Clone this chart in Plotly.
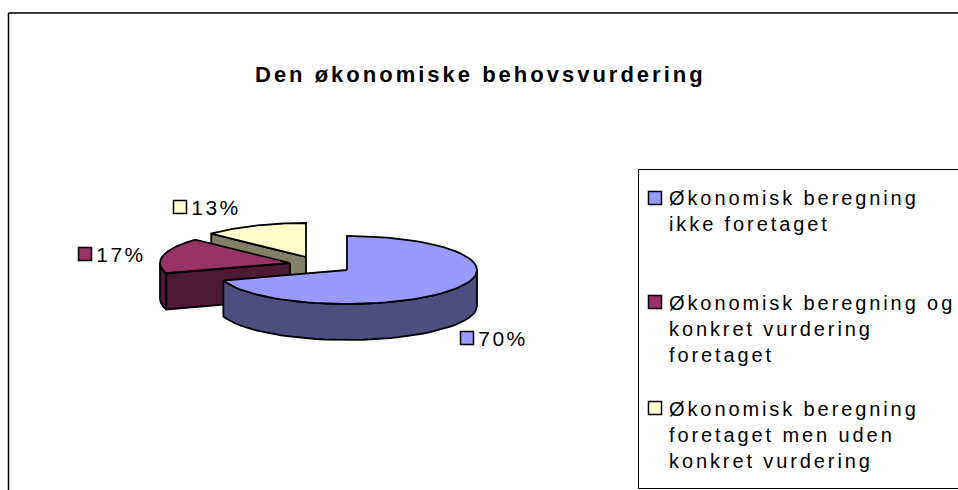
import numpy as np
import plotly.graph_objects as go

categories = ["Økonomisk beregning<br>ikke foretaget",
              "Økonomisk beregning og<br>konkret vurdering<br>foretaget",
              "Økonomisk beregning<br>foretaget men uden<br>konkret vurdering"]
values = [70, 17, 13]
tops = ["#9999FF", "#993366", "#FFFFCC"]
sides = ["#4D4D80", "#4D1933", "#808066"]
title = "Den økonomiske behovsvurdering"

W, H = 958, 490
RX, RY, DEPTH = 130, 34, 36
APEX = [(347, 270), (290, 263), (306, 257)]
LABEL_POS = [(467, 338), (85, 254), (180, 207)]
LEGEND_Y = [198, 302, 408]
LEGEND_TEXT_Y = [198, 303, 409]

fig = go.Figure()

def ell(c, a):
    r = np.radians(a)
    return c[0] + RX * np.sin(r), c[1] - RY * np.cos(r)

def poly(xs, ys, color):
    fig.add_trace(go.Scatter(x=xs, y=ys, mode="lines", fill="toself", fillcolor=color,
                             line=dict(color="black", width=1.8), hoverinfo="skip", showlegend=False))

def outer_side(c, a0, a1, color):
    a = np.linspace(a0, a1, 40)
    x, y = ell(c, a)
    poly(np.r_[x, x[::-1], x[0]], np.r_[y, y[::-1] + DEPTH, y[0]], color)

def cut_side(c, ang, color):
    x, y = ell(c, ang)
    poly([c[0], x, x, c[0], c[0]], [c[1], y, y + DEPTH, c[1] + DEPTH, c[1]], color)

def top(c, a0, a1, color):
    a = np.linspace(a0, a1, 80)
    x, y = ell(c, a)
    poly(np.r_[c[0], x, c[0]], np.r_[c[1], y, c[1]], color)

total = sum(values)
edges = np.cumsum([0] + values) * 360 / total

# back to front: yellow, maroon, blue
cut_side(APEX[2], edges[2], sides[2])
top(APEX[2], edges[2], edges[3], tops[2])
outer_side(APEX[1], edges[1], 270, sides[1])
cut_side(APEX[1], edges[1], sides[1])
top(APEX[1], edges[1], edges[2], tops[1])
outer_side(APEX[0], 90, edges[1], sides[0])
top(APEX[0], edges[0], edges[1], tops[0])

# swatches for labels and legend
swx = [p[0] for p in LABEL_POS] + [655] * 3
swy = [p[1] for p in LABEL_POS] + LEGEND_Y
fig.add_trace(go.Scatter(x=swx, y=swy, mode="markers", hoverinfo="skip", showlegend=False,
                         marker=dict(symbol="square", size=13, color=tops + tops,
                                     line=dict(color="black", width=1.5))))

font = "Liberation Sans"
ann = []
for v, p in zip(values, LABEL_POS):
    ann.append(dict(x=p[0] + 13, y=p[1], text=f"{v}%", showarrow=False, xanchor="left", yanchor="middle",
                    font=dict(family=font, size=21, color="black")))
for c, y in zip(categories, LEGEND_TEXT_Y):
    ann.append(dict(x=667, y=y - 13, text=c, showarrow=False, xanchor="left", yanchor="top", align="left",
                    font=dict(family=font, size=20, color="black")))
ann.append(dict(x=480, y=74, text=title, showarrow=False, xanchor="center", yanchor="middle",
                font=dict(family=font, size=22, color="black", weight="bold")))

shapes = [
    dict(type="line", x0=8.5, x1=958, y0=13, y1=13, line=dict(color="black", width=1.5)),
    dict(type="line", x0=8.5, x1=8.5, y0=13, y1=490, line=dict(color="black", width=1.5)),
    dict(type="rect", x0=638.5, x1=975, y0=169.5, y1=488.5, line=dict(color="black", width=1)),
]

fig.update_layout(
    width=W, height=H, margin=dict(l=0, r=0, t=0, b=0), paper_bgcolor="white", plot_bgcolor="white",
    xaxis=dict(range=[0, W], visible=False, fixedrange=True),
    yaxis=dict(range=[H, 0], visible=False, fixedrange=True),
    annotations=ann, shapes=shapes, showlegend=False,
)
post = """
document.body.style.margin = '0';
document.body.style.overflow = 'hidden';
document.querySelectorAll('.annotation-text').forEach(function(t){
  var s = t.textContent;
  t.style.letterSpacing = s.indexOf('Den') === 0 ? '3px' : (s.indexOf('%') > 0 ? '2.5px' : '2.9px');
});
"""
fig.write_html("out.html", config={"displayModeBar": False}, post_script=post,
               default_width=W, default_height=H)
